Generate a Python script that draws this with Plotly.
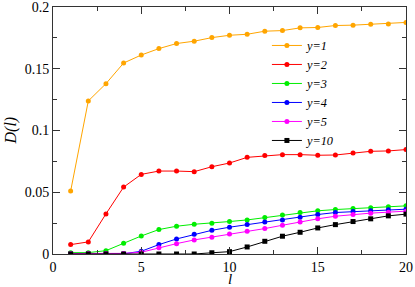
import plotly.graph_objects as go

l_vals = list(range(1, 21))

d_y1 = [0.051, 0.124, 0.138, 0.1547, 0.1612, 0.1664, 0.1705, 0.1724, 0.1753, 0.1772,
        0.178, 0.1805, 0.181, 0.1832, 0.1835, 0.1851, 0.1854, 0.1862, 0.1864, 0.1876]
d_y2 = [0.0076, 0.0098, 0.0325, 0.0542, 0.0645, 0.0672, 0.0672, 0.0667, 0.0707, 0.0737,
        0.0783, 0.0797, 0.0805, 0.0805, 0.080, 0.0802, 0.0818, 0.0832, 0.0835, 0.0846]
d_y3 = [0.0011, 0.0011, 0.0027, 0.0087, 0.0146, 0.0198, 0.0225, 0.0241, 0.025, 0.0263,
        0.0276, 0.0295, 0.0315, 0.0336, 0.035, 0.036, 0.0368, 0.0374, 0.0382, 0.039]
d_y4 = [0.0002, 0.0002, 0.0002, 0.0002, 0.0022, 0.0076, 0.0122, 0.016, 0.0192, 0.0217,
        0.0238, 0.026, 0.0276, 0.0298, 0.032, 0.0336, 0.0344, 0.035, 0.0358, 0.0363]
d_y5 = [0.0004, 0.0004, 0.0004, 0.0005, 0.0014, 0.0051, 0.0084, 0.0114, 0.0136, 0.0163,
        0.0184, 0.0206, 0.0233, 0.026, 0.0285, 0.0306, 0.032, 0.0331, 0.0339, 0.0347]
d_y10 = [0.0, 0.0, 0.0, 0.0, 0.0, 0.0, 0.0, 0.0, 0.001, 0.0019,
         0.0057, 0.0103, 0.0144, 0.0176, 0.0211, 0.0238, 0.0263, 0.0285, 0.0309, 0.0323]

series_names = ["y=1", "y=2", "y=3", "y=4", "y=5", "y=10"]
series_data = [d_y1, d_y2, d_y3, d_y4, d_y5, d_y10]
series_colors = ["#FFA500", "#FF0000", "#00EE00", "#0000FF", "#FF00FF", "#000000"]
series_symbols = ["circle", "circle", "circle", "circle", "circle", "square"]

x_ticks = [0, 5, 10, 15, 20]
y_ticks = [0, 0.05, 0.1, 0.15, 0.2]
y_tick_text = ["0", "0.05", "0.1", "0.15", "0.2"]

x_title = "l"
y_title = "D(l)"

FONT = "Liberation Serif, DejaVu Serif, serif"

fig = go.Figure()
for name, data, color, sym in zip(series_names, series_data, series_colors, series_symbols):
    fig.add_trace(go.Scatter(
        x=l_vals, y=data, mode="lines+markers", name="<i>" + name + "</i>",
        line=dict(color=color, width=1),
        marker=dict(color=color, size=5, symbol=sym),
    ))

axis_common = dict(
    showline=True, linecolor="#333", linewidth=1, mirror="allticks",
    ticks="inside", ticklen=7, tickcolor="#333", showgrid=False, zeroline=False,
    automargin=False, ticklabeloverflow="allow",
    tickfont=dict(family=FONT, size=14, color="black"),
)

fig.update_xaxes(range=[0, 20], tickvals=x_ticks,
                 minor=dict(ticks="inside", ticklen=4, dtick=2.5, tickcolor="#333", showgrid=False),
                 **axis_common)
fig.update_yaxes(range=[0, 0.2001], tickvals=y_ticks, ticktext=y_tick_text,
                 minor=dict(ticks="inside", ticklen=4, dtick=0.025, tickcolor="#333", showgrid=False),
                 **axis_common)

fig.add_annotation(text="<i>" + x_title + "</i>", xref="paper", yref="paper",
                   x=0.5, y=0, xanchor="center", yanchor="top", yshift=-15,
                   showarrow=False, font=dict(family=FONT, size=15, color="black"))
fig.add_annotation(text="<i>" + y_title + "</i>", xref="paper", yref="paper",
                   x=0, y=0.5, xanchor="right", yanchor="middle", xshift=-32, textangle=-90,
                   showarrow=False, font=dict(family=FONT, size=16, color="black"))

fig.update_layout(
    width=415, height=287,
    margin=dict(l=53, r=9, t=7, b=33),
    paper_bgcolor="white", plot_bgcolor="white",
    font=dict(family=FONT),
    showlegend=True,
    legend=dict(x=0.606, y=0.903, xanchor="left", yanchor="top",
                bgcolor="rgba(0,0,0,0)", borderwidth=0,
                font=dict(family=FONT, size=12.3, color="black"),
                itemwidth=30, tracegroupgap=0),
)

fig.write_html("out.html", config={"displayModeBar": False},
               post_script="document.body.style.margin='0';document.body.style.padding='0';")
